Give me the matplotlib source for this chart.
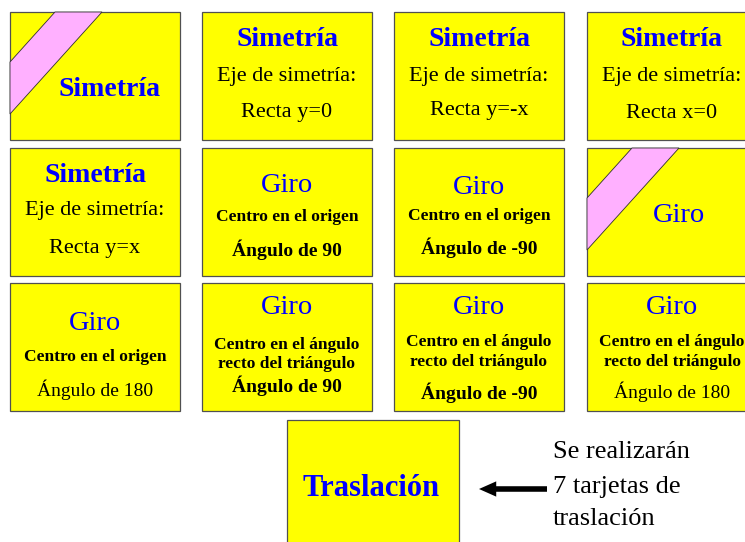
import matplotlib.pyplot as plt
from matplotlib.patches import Rectangle, Polygon

# card contents, row by row (text, style)
card_text = [
    [("Simetría", "title")],
    [("Simetría", "title"), ("Eje de simetría:", "eje"), ("Recta y=0", "eje")],
    [("Simetría", "title"), ("Eje de simetría:", "eje"), ("Recta y=-x", "eje")],
    [("Simetría", "title"), ("Eje de simetría:", "eje"), ("Recta x=0", "eje")],
    [("Simetría", "title"), ("Eje de simetría:", "eje"), ("Recta y=x", "eje")],
    [("Giro", "giro"), ("Centro en el origen", "centro"), ("Ángulo de 90", "ang_b")],
    [("Giro", "giro"), ("Centro en el origen", "centro"), ("Ángulo de -90", "ang_b")],
    [("Giro", "giro")],
    [("Giro", "giro"), ("Centro en el origen", "centro"), ("Ángulo de 180", "ang_r")],
    [("Giro", "giro"), ("Centro en el ángulo", "centro"), ("recto del triángulo", "centro"),
     ("Ángulo de 90", "ang_b")],
    [("Giro", "giro"), ("Centro en el ángulo", "centro"), ("recto del triángulo", "centro"),
     ("Ángulo de -90", "ang_b")],
    [("Giro", "giro"), ("Centro en el ángulo", "centro"), ("recto del triángulo", "centro"),
     ("Ángulo de 180", "ang_r")],
]
# cards that carry the pink diagonal band
band_cards = [0, 7]
trans_title = "Traslación"
note_lines = ["Se realizarán", "7 tarjetas de", "traslación"]

# layout (pixels)
col_x = [10, 202, 394, 587]
row_y = [12, 148, 283]
card_w, card_h = 170, 128
# vertical centres of each text line, relative to card top
line_y = [
    [77], [28, 65, 101], [28, 65, 99], [28, 65, 101],
    [27, 63, 100], [37, 69, 102], [40, 68, 100], [68],
    [40, 74, 107], [24, 62, 81, 103], [25, 59, 79, 110], [25, 59, 79, 109],
]
# horizontal offsets of text from the card centre
line_dx = {0: 15, 7: 7}

styles = {
    "title": dict(size=20, weight="bold", color="#0000ff"),
    "giro": dict(size=20.5, weight="normal", color="#0000ff"),
    "eje": dict(size=16, weight="normal", color="black"),
    "centro": dict(size=12.5, weight="bold", color="black"),
    "ang_b": dict(size=14, weight="bold", color="black"),
    "ang_r": dict(size=14, weight="normal", color="black"),
}

YELLOW = "#ffff00"
PINK = "#ffb0ff"
EDGE = "#505050"
FONT = "Liberation Serif"

fig = plt.figure(figsize=(7.45, 5.42), dpi=100)
ax = fig.add_axes([0, 0, 1, 1])
ax.set_xlim(0, 745)
ax.set_ylim(542, 0)
ax.axis("off")

for i, lines in enumerate(card_text):
    r, c = divmod(i, 4)
    x0, y0 = col_x[c], row_y[r]
    ax.add_patch(Rectangle((x0, y0), card_w, card_h, facecolor=YELLOW,
                           edgecolor=EDGE, lw=0.9))
    if i in band_cards:
        band = [(x0 + 45, y0), (x0 + 92, y0), (x0, y0 + 102), (x0, y0 + 50)]
        ax.add_patch(Polygon(band, closed=True, facecolor=PINK,
                             edgecolor="#303030", lw=0.6))
    cx = x0 + card_w / 2 + line_dx.get(i, 0)
    for (txt, st), dy in zip(lines, line_y[i]):
        ax.text(cx, y0 + dy, txt, ha="center", va="center",
                family=FONT, **styles[st])

# translation card
tx0, ty0 = 287, 420
ax.add_patch(Rectangle((tx0, ty0), 172, 140, facecolor=YELLOW,
                       edgecolor=EDGE, lw=0.9))
ax.text(tx0 + 84, 488, trans_title, ha="center", va="center",
        family=FONT, size=22, weight="bold", color="#0000ff")

ax.annotate("", xy=(479, 489), xytext=(547, 489),
            arrowprops=dict(arrowstyle="simple,head_length=0.62,head_width=0.55,tail_width=0.2",
                            mutation_scale=20, lw=0, fc="black", ec="none",
                            shrinkA=0, shrinkB=0))

for txt, y in zip(note_lines, [452, 487, 519]):
    ax.text(553, y, txt, ha="left", va="center", family=FONT, size=19,
            color="black")

fig.savefig("out.png", dpi=100, facecolor="white")
